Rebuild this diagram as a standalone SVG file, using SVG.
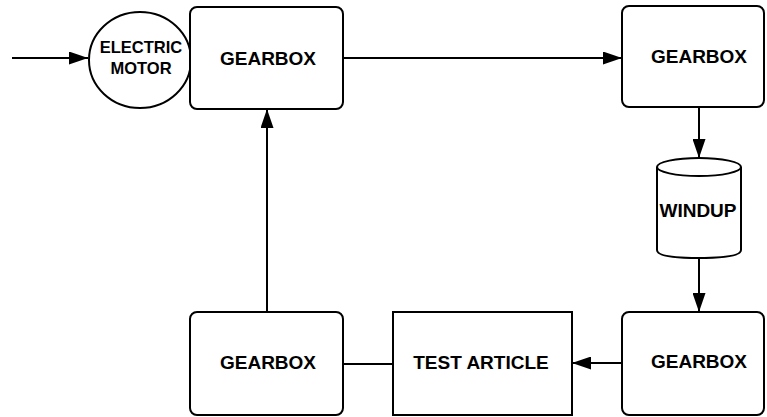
<svg xmlns="http://www.w3.org/2000/svg" width="767" height="417" viewBox="0 0 767 417">
  <defs>
    <marker id="arrow" markerWidth="19" markerHeight="13" refX="19" refY="6.5" orient="auto" markerUnits="userSpaceOnUse">
      <path d="M0,0 L19,6.5 L0,13 Z" fill="#000"/>
    </marker>
    <style>
      .shape { fill: #fff; stroke: #000; stroke-width: 2; }
      .wire { fill: none; stroke: #000; stroke-width: 2; }
      .label { font-family: "Liberation Sans", Arial, sans-serif; font-weight: bold; font-size: 19px; fill: #000; text-anchor: middle; }
      .small { font-size: 16.5px; }
    </style>
  </defs>
  <rect width="767" height="417" fill="#fff"/>

  <!-- connectors -->
  <g id="connectors">
    <line class="wire" x1="12" y1="58" x2="88" y2="58" marker-end="url(#arrow)"/>
    <line class="wire" x1="343" y1="58" x2="622" y2="58" marker-end="url(#arrow)"/>
    <line class="wire" x1="699" y1="107" x2="699" y2="158" marker-end="url(#arrow)"/>
    <line class="wire" x1="699" y1="257" x2="699" y2="312" marker-end="url(#arrow)"/>
    <line class="wire" x1="622" y1="363" x2="572" y2="363" marker-end="url(#arrow)"/>
    <line class="wire" x1="393" y1="364" x2="343" y2="364"/>
    <line class="wire" x1="267" y1="312" x2="267" y2="109" marker-end="url(#arrow)"/>
  </g>

  <!-- nodes -->
  <g id="motor">
    <ellipse class="shape" cx="140" cy="60" rx="51" ry="48"/>
    <text class="label small" x="141" y="53">ELECTRIC</text>
    <text class="label small" x="141" y="74">MOTOR</text>
  </g>

  <g id="gearbox-input">
    <rect class="shape" x="190" y="7" width="153" height="102" rx="7"/>
    <text class="label" x="268" y="65">GEARBOX</text>
  </g>

  <g id="gearbox-upper-right">
    <rect class="shape" x="622" y="6" width="142" height="101" rx="7"/>
    <text class="label" x="699" y="63">GEARBOX</text>
  </g>

  <g id="windup">
    <path class="shape" d="M657,167 L657,250 Q657,258 698,258 Q741,258 741,250 L741,167"/>
    <ellipse class="shape" cx="699" cy="167" rx="42" ry="9"/>
    <text class="label" x="698" y="217">WINDUP</text>
  </g>

  <g id="gearbox-lower-right">
    <rect class="shape" x="622" y="312" width="142" height="103" rx="7"/>
    <text class="label" x="699" y="368">GEARBOX</text>
  </g>

  <g id="test-article">
    <rect class="shape" x="393" y="312" width="179" height="103"/>
    <text class="label" x="481" y="369">TEST ARTICLE</text>
  </g>

  <g id="gearbox-return">
    <rect class="shape" x="190" y="312" width="153" height="103" rx="7"/>
    <text class="label" x="268" y="369">GEARBOX</text>
  </g>
</svg>
